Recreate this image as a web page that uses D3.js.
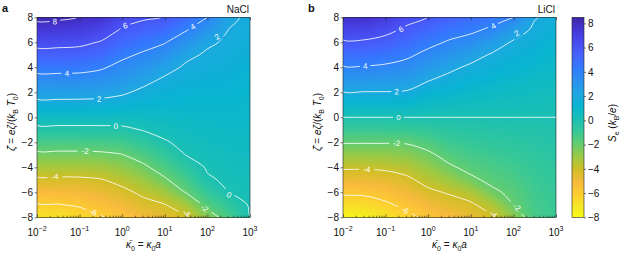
<!DOCTYPE html>
<html>
<head>
<meta charset="utf-8">
<script src="https://cdn.jsdelivr.net/npm/d3@7"></script>
<style>
body { margin: 0; background: #fff; }
svg text { font-family: "Liberation Sans", Arial, Helvetica, sans-serif; }
</style>
</head>
<body>
<svg id="chart" width="623" height="262"></svg>
<script>
// grid columns: log10 of kappa_0 a
var logK = [-2, -1.5, -1, -0.5, 0, 0.5, 1, 1.5, 2, 2.5, 3];
// grid rows: reduced zeta potential, top to bottom
var zeta = [8, 7, 6, 5, 4, 3, 2, 1, 0, -1, -2, -3, -4, -5, -6, -7, -8];

// S_e (k_B/e), one row per zeta, one column per logK
var seNaCl = [
  [8.33, 8.23, 7.96, 7.65, 6.62, 6.20, 5.95, 5.00, 4.00, 2.30, 1.70],
  [7.39, 7.32, 7.14, 6.78, 5.85, 5.39, 5.00, 4.09, 3.09, 1.98, 1.62],
  [6.45, 6.41, 6.31, 5.91, 5.08, 4.57, 4.08, 3.18, 2.18, 1.83, 1.53],
  [5.48, 5.46, 5.40, 5.04, 4.31, 3.79, 3.25, 2.27, 1.84, 1.68, 1.42],
  [4.48, 4.47, 4.43, 4.17, 3.58, 3.07, 2.42, 1.82, 1.65, 1.53, 1.31],
  [3.50, 3.50, 3.48, 3.30, 2.88, 2.36, 1.81, 1.56, 1.46, 1.37, 1.20],
  [2.54, 2.54, 2.52, 2.43, 2.18, 1.72, 1.44, 1.31, 1.26, 1.22, 1.09],
  [1.58, 1.58, 1.58, 1.54, 1.39, 1.17, 1.07, 1.05, 1.07, 1.07, 0.98],
  [0.64, 0.64, 0.64, 0.62, 0.58, 0.61, 0.69, 0.79, 0.87, 0.92, 0.87],
  [-0.33, -0.33, -0.33, -0.31, -0.25, 0.06, 0.32, 0.54, 0.68, 0.76, 0.76],
  [-1.31, -1.31, -1.31, -1.28, -1.15, -0.69, -0.10, 0.28, 0.49, 0.61, 0.65],
  [-2.29, -2.29, -2.29, -2.23, -2.04, -1.46, -0.77, 0.03, 0.29, 0.46, 0.54],
  [-3.27, -3.27, -3.27, -3.16, -2.82, -2.23, -1.43, -0.60, 0.10, 0.31, 0.43],
  [-4.23, -4.23, -4.20, -4.07, -3.61, -2.98, -2.15, -1.27, -0.12, 0.15, 0.32],
  [-5.17, -5.14, -5.02, -4.75, -4.32, -3.74, -3.12, -1.93, -0.80, 0.00, 0.21],
  [-6.11, -6.05, -5.84, -5.42, -4.96, -4.39, -4.05, -3.20, -1.60, -0.70, 0.10],
  [-7.05, -6.95, -6.65, -6.10, -5.60, -5.00, -4.60, -4.10, -2.70, -1.40, -0.01]
];
var seLiCl = [
  [7.76, 7.71, 7.26, 6.48, 5.96, 5.45, 5.00, 4.55, 4.00, 2.08, 1.60],
  [6.79, 6.76, 6.39, 5.74, 5.18, 4.63, 4.28, 3.74, 2.67, 1.77, 1.40],
  [5.83, 5.81, 5.52, 5.00, 4.39, 3.84, 3.43, 2.68, 1.85, 1.52, 1.20],
  [4.87, 4.86, 4.65, 4.26, 3.62, 3.06, 2.48, 1.87, 1.54, 1.27, 1.00],
  [3.90, 3.90, 3.77, 3.48, 2.85, 2.27, 1.78, 1.50, 1.23, 1.01, 0.80],
  [2.93, 2.93, 2.86, 2.69, 2.08, 1.64, 1.33, 1.12, 0.92, 0.76, 0.60],
  [1.95, 1.95, 1.95, 1.88, 1.38, 1.10, 0.89, 0.75, 0.62, 0.51, 0.40],
  [0.98, 0.98, 0.98, 0.94, 0.69, 0.55, 0.44, 0.37, 0.31, 0.25, 0.20],
  [0, 0, 0, 0, 0, 0, 0, 0, 0, 0, 0],
  [-0.96, -0.96, -0.96, -0.94, -0.75, -0.53, -0.42, -0.34, -0.29, -0.22, -0.16],
  [-1.92, -1.92, -1.92, -1.89, -1.51, -1.05, -0.83, -0.69, -0.57, -0.44, -0.32],
  [-2.88, -2.88, -2.85, -2.70, -2.23, -1.58, -1.25, -1.03, -0.86, -0.66, -0.47],
  [-3.85, -3.85, -3.77, -3.49, -2.90, -2.17, -1.67, -1.38, -1.14, -0.85, -0.60],
  [-4.82, -4.79, -4.61, -4.25, -3.57, -3.02, -2.23, -1.72, -1.43, -1.00, -0.72],
  [-5.79, -5.74, -5.42, -4.95, -4.26, -3.87, -3.37, -2.23, -1.71, -1.12, -0.82],
  [-6.76, -6.68, -6.23, -5.65, -4.99, -4.55, -4.20, -3.37, -2.00, -1.22, -0.90],
  [-7.73, -7.62, -7.04, -6.35, -5.71, -5.19, -4.66, -4.15, -2.83, -1.30, -1.00]
];

var levels = [-8, -6, -4, -2, 0, 2, 4, 6, 8];
// contour labels: [level, log10 kappa, zeta]
var labNaCl = [[8, -1.58, 7.65], [6, 0.07, 7.33], [4, -1.3, 3.52], [4, 1.66, 7.25],
  [2, -0.54, 1.45], [2, 2.23, 6.45], [0, -0.15, -0.7], [0, 2.51, -6.2],
  [-2, -0.87, -2.7], [-2, 1.94, -7.28], [-4, -1.58, -4.75], [-4, 1.51, -7.68], [-6, -0.68, -7.6]];
var labLiCl = [[6, -0.64, 7.04], [4, -1.48, 4.1], [4, 1.53, 7.3], [2, -0.74, 2.05],
  [2, 2.08, 6.72], [0, -0.70, 0], [-2, -0.74, -2.08], [-2, 2.08, -7.2],
  [-4, -1.44, -4.16], [-4, 1.53, -7.74], [-6, -0.54, -7.42]];

var xTickExp = [-2, -1, 0, 1, 2, 3];
var yTicks = [-8, -6, -4, -2, 0, 2, 4, 6, 8];
var cbTicks = [-8, -6, -4, -2, 0, 2, 4, 6, 8];
var cbMin = -8, cbMax = 8.5;

// parula
var parula = ["#3e26a8", "#4537d5", "#484df0", "#4563fd", "#327cfc", "#2b91ef", "#20a5e3", "#08b5d0",
  "#19bfb6", "#37c897", "#64cd6f", "#9dc943", "#d1bf27", "#f8ba3d", "#fccf30", "#f5e924", "#f9fb15"];
var parulaPos = [0, 4, 8, 12, 16, 20, 24, 28, 32, 36, 40, 44, 48, 52, 56, 60, 63].map(function(i) { return i / 63; });
var parulaScale = d3.scaleLinear().domain(parulaPos).range(parula).interpolate(d3.interpolateRgb).clamp(true);
function colour(v) { return parulaScale((cbMax - v) / (cbMax - cbMin)); }

var svg = d3.select("#chart");
var defs = svg.append("defs");
var top0 = 17.3, bot0 = 217.3, pw = 213;
var y = d3.scaleLinear().domain([-8, 8]).range([bot0, top0]);

function rich(sel, parts) {
  var shift = 0;
  parts.forEach(function(p) {
    var ts = sel.append("tspan").text(p[0]);
    var want = p[1].indexOf("sub") >= 0 ? 2.5 : 0;
    if (want !== shift) { ts.attr("dy", want - shift); shift = want; }
    if (p[1].indexOf("i") >= 0) ts.attr("font-style", "italic");
    if (want) ts.attr("font-size", 7);
  });
}

function panel(id, left, grid, labels, salt, tag) {
  var x = d3.scaleLog().domain([1e-2, 1e3]).range([left, left + pw]);
  var colIdx = d3.scaleLinear().domain([0, logK.length - 1]).range([logK[0], logK[logK.length - 1]]);
  var rowIdx = d3.scaleLinear().domain([0, zeta.length - 1]).range([zeta[0], zeta[zeta.length - 1]]);
  function px(cx) { return x(Math.pow(10, colIdx(cx - 0.5))); }
  function py(cy) { return y(rowIdx(cy - 0.5)); }
  var path = d3.geoPath(d3.geoTransform({ point: function(a, b) { this.stream.point(px(a), py(b)); } }));
  var values = grid.flat();
  var cont = d3.contours().size([logK.length, zeta.length]);

  defs.append("clipPath").attr("id", "clip-" + id)
    .append("rect").attr("x", left).attr("y", top0).attr("width", pw).attr("height", bot0 - top0);

  var g = svg.append("g").attr("clip-path", "url(#clip-" + id + ")");
  g.append("rect").attr("x", left).attr("y", top0).attr("width", pw).attr("height", bot0 - top0)
    .attr("fill", colour(-8));
  var th = d3.range(-80, 86).map(function(d) { return d / 10; });
  g.selectAll("path.band").data(cont.thresholds(th)(values)).join("path")
    .attr("class", "band").attr("d", path).attr("fill", function(d) { return colour(d.value + 0.05); });

  // label orientation from the local gradient of the grid
  function sample(fx, fy) {
    fx = Math.max(0, Math.min(logK.length - 1.001, fx));
    fy = Math.max(0, Math.min(zeta.length - 1.001, fy));
    var i = Math.floor(fx), j = Math.floor(fy), tx = fx - i, ty = fy - j;
    return (1 - tx) * (1 - ty) * grid[j][i] + tx * (1 - ty) * grid[j][i + 1] +
      (1 - tx) * ty * grid[j + 1][i] + tx * ty * grid[j + 1][i + 1];
  }
  var dxPix = px(1.5) - px(0.5), dyPix = py(1.5) - py(0.5);
  var lab = labels.map(function(l) {
    var fx = colIdx.invert(l[1]), fy = rowIdx.invert(l[2]), h = 0.05;
    var gx = (sample(fx + h, fy) - sample(fx - h, fy)) / (2 * h * dxPix);
    var gy = (sample(fx, fy + h) - sample(fx, fy - h)) / (2 * h * dyPix);
    var a = Math.atan2(-gx, gy) * 180 / Math.PI;
    if (a > 90) a -= 180;
    if (a < -90) a += 180;
    var txt = String(l[0]);
    return { txt: txt, x: x(Math.pow(10, l[1])), y: y(l[2]), a: a, w: txt.length * 4.6 + 6 };
  });

  var mask = defs.append("mask").attr("id", "mask-" + id).attr("maskUnits", "userSpaceOnUse")
    .attr("x", 0).attr("y", 0).attr("width", 623).attr("height", 262);
  mask.append("rect").attr("x", 0).attr("y", 0).attr("width", 623).attr("height", 262).attr("fill", "#fff");
  mask.selectAll("rect.gap").data(lab).join("rect").attr("class", "gap")
    .attr("x", function(d) { return -d.w / 2; }).attr("y", -4.5)
    .attr("width", function(d) { return d.w; }).attr("height", 9)
    .attr("transform", function(d) { return "translate(" + d.x + "," + d.y + ") rotate(" + d.a + ")"; })
    .attr("fill", "#000");

  var line = d3.line().curve(d3.curveCatmullRomClosed.alpha(0.5));
  var rings = [];
  cont.thresholds(levels)(values).forEach(function(c) {
    c.coordinates.forEach(function(poly) {
      poly.forEach(function(r) { rings.push(r.map(function(p) { return [px(p[0]), py(p[1])]; })); });
    });
  });
  g.append("g").attr("mask", "url(#mask-" + id + ")")
    .selectAll("path").data(rings).join("path")
    .attr("d", function(r) { return line(r.slice(0, -1)); })
    .attr("fill", "none").attr("stroke", "#fff").attr("stroke-width", 0.9).attr("stroke-opacity", 0.92);

  g.selectAll("text.clab").data(lab).join("text").attr("class", "clab")
    .attr("transform", function(d) { return "translate(" + d.x + "," + d.y + ") rotate(" + d.a + ")"; })
    .attr("text-anchor", "middle").attr("dy", "0.35em").attr("font-size", 8).attr("fill", "#fff")
    .text(function(d) { return d.txt; });

  // axes
  var ax = svg.append("g").attr("fill", "none").attr("stroke", "#222").attr("stroke-width", 0.6);
  var minor = [];
  for (var e = -2; e < 3; e++) for (var m = 2; m < 10; m++) minor.push(m * Math.pow(10, e));
  function decorate(sel) { sel.select(".domain").remove(); sel.selectAll("line").attr("stroke", "#222").attr("stroke-width", 0.6); }
  ax.append("g").attr("transform", "translate(0," + bot0 + ")")
    .call(d3.axisBottom(x).tickValues(xTickExp.map(function(e) { return Math.pow(10, e); })).tickSize(-3).tickFormat("")).call(decorate);
  ax.append("g").attr("transform", "translate(0," + bot0 + ")")
    .call(d3.axisBottom(x).tickValues(minor).tickSize(-1.6).tickFormat("")).call(decorate);
  ax.append("g").attr("transform", "translate(0," + top0 + ")")
    .call(d3.axisTop(x).tickValues(xTickExp.map(function(e) { return Math.pow(10, e); })).tickSize(-3).tickFormat("")).call(decorate);
  ax.append("g").attr("transform", "translate(" + left + ",0)")
    .call(d3.axisLeft(y).tickValues(yTicks).tickSize(2.5).tickFormat("")).call(decorate);
  ax.append("rect").attr("x", left).attr("y", top0).attr("width", pw).attr("height", bot0 - top0);

  var tx = svg.append("g").attr("fill", "#111").attr("font-size", 10);
  xTickExp.forEach(function(e) {
    var t = tx.append("text").attr("x", x(Math.pow(10, e))).attr("y", 235.5).attr("text-anchor", "middle");
    t.append("tspan").text("10");
    t.append("tspan").attr("dy", -4.5).attr("font-size", 7).text(e < 0 ? "\u2212" + (-e) : String(e));
  });
  tx.selectAll("text.yl").data(yTicks).join("text").attr("class", "yl")
    .attr("x", left - 4).attr("y", function(d) { return y(d); }).attr("dy", "0.35em").attr("text-anchor", "end")
    .text(function(d) { return d < 0 ? "\u2212" + (-d) : String(d); });

  var xt = tx.append("text").attr("x", left + pw / 2).attr("y", 248).attr("text-anchor", "middle");
  rich(xt, [["\u03ba\u0304", "i"], ["0", "sub"], [" = ", ""], ["\u03ba", "i"], ["0", "sub"], ["a", "i"]]);
  var yt = tx.append("text").attr("transform", "translate(" + (left - 22) + ",122) rotate(-90)").attr("text-anchor", "middle");
  rich(yt, [["\u03b6\u0304", "i"], [" = ", ""], ["e\u03b6", "i"], ["/(", ""], ["k", "i"], ["B", "sub"], [" ", ""], ["T", "i"], ["0", "sub"], [")", ""]]);

  tx.append("text").attr("x", left + pw - 1).attr("y", 12.5).attr("text-anchor", "end").text(salt);
  tx.append("text").attr("x", left - 35).attr("y", 12).attr("font-weight", "bold").attr("font-size", 11).text(tag);
}

panel("a", 37, seNaCl, labNaCl, "NaCl", "a");
panel("b", 343, seLiCl, labLiCl, "LiCl", "b");

// colour bar
var cbX = 572, cbW = 12;
var cbY = d3.scaleLinear().domain([cbMin, cbMax]).range([bot0, top0]);
var grad = defs.append("linearGradient").attr("id", "cbgrad").attr("x1", 0).attr("y1", 0).attr("x2", 0).attr("y2", 1);
grad.selectAll("stop").data(parula).join("stop")
  .attr("offset", function(d, i) { return parulaPos[i]; }).attr("stop-color", function(d) { return d; });
svg.append("rect").attr("x", cbX).attr("y", top0).attr("width", cbW).attr("height", bot0 - top0)
  .attr("fill", "url(#cbgrad)").attr("stroke", "#222").attr("stroke-width", 0.6);
var cbAx = svg.append("g").attr("transform", "translate(" + (cbX + cbW) + ",0)")
  .call(d3.axisRight(cbY).tickValues(cbTicks).tickSize(2)
    .tickFormat(function(d) { return d < 0 ? "\u2212" + (-d) : String(d); }));
cbAx.select(".domain").remove();
cbAx.selectAll("line").attr("stroke", "#222").attr("stroke-width", 0.6);
cbAx.selectAll("text").attr("font-family", "Liberation Sans, Arial, sans-serif").attr("font-size", 10).attr("fill", "#111").attr("x", 4);
var cbl = svg.append("text").attr("transform", "translate(616,123) rotate(-90)").attr("text-anchor", "middle")
  .attr("font-size", 10).attr("fill", "#111");
rich(cbl, [["S", "i"], ["e", "sub"], [" (", ""], ["k", "i"], ["B", "sub"], ["/", ""], ["e", "i"], [")", ""]]);
</script>
</body>
</html>
